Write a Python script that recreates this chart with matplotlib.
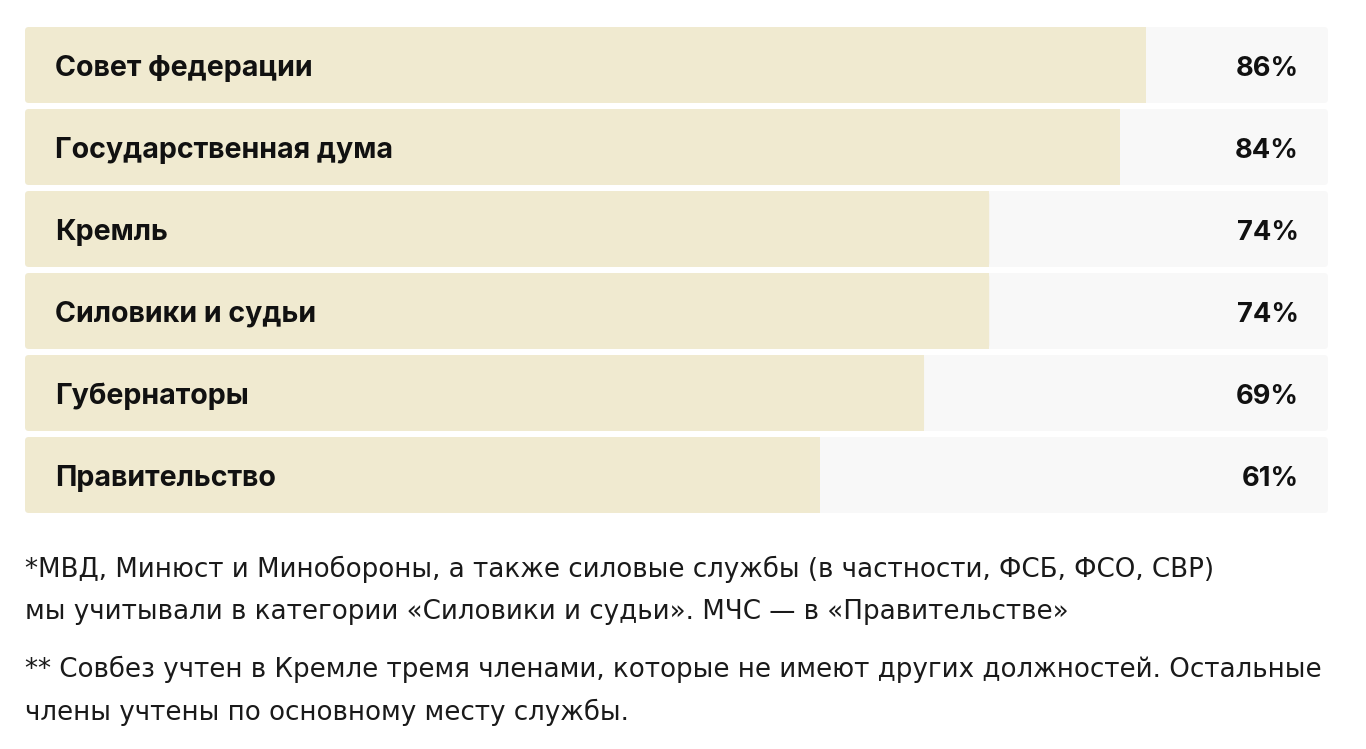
import matplotlib
matplotlib.use('Agg')

import matplotlib.pyplot as plt
from matplotlib.patches import FancyBboxPatch

# data
categories = ['Совет федерации', 'Государственная дума', 'Кремль',
              'Силовики и судьи', 'Губернаторы', 'Правительство']
shares = [86, 84, 74, 74, 69, 61]

notes = ['*МВД, Минюст и Минобороны, а также силовые службы (в частности, ФСБ, ФСО, СВР)',
         'мы учитывали в категории «Силовики и судьи». МЧС — в «Правительстве»',
         '** Совбез учтен в Кремле тремя членами, которые не имеют других должностей. Остальные',
         'члены учтены по основному месту службы.']

plt.rcParams['font.family'] = ['Inter', 'DejaVu Sans']

W, H = 1366, 749
fig = plt.figure(figsize=(W / 100, H / 100), dpi=100)
fig.patch.set_facecolor('white')

# bars area in pixels: x 25..1328, y 27..513
ax = fig.add_axes([25 / W, 1 - 513 / H, 1303 / W, 486 / H])
ax.set_xlim(0, 100)
h = 76 / 82
ax.set_ylim(len(categories) - 1 + h / 2, -h / 2)
ax.axis('off')

aspect = (1303 / 100) / 82  # y units per x unit for same pixel size
r = 0.3
base = 11 / 82  # baseline offset below row centre
for i, (cat, val) in enumerate(zip(categories, shares)):
    track = FancyBboxPatch((0, i - h / 2), 100, h,
                           boxstyle='round,pad=0,rounding_size=%s' % r,
                           mutation_aspect=aspect, facecolor='#f8f8f8',
                           edgecolor='none')
    ax.add_patch(track)
    bar = FancyBboxPatch((0, i - h / 2), val, h,
                         boxstyle='round,pad=0,rounding_size=%s' % r,
                         mutation_aspect=aspect, facecolor='#f0ead0',
                         edgecolor='none')
    ax.add_patch(bar)
    # square off right side of the bar
    ax.barh(i, r, left=val - r, height=h, color='#f0ead0', linewidth=0)
    ax.text(2.3, i + base, cat, fontsize=20.6, fontweight='bold', color='#111111',
            va='baseline', ha='left')
    ax.text(97.75, i + base, '%d%%' % val, fontsize=19.6, fontweight='bold',
            color='#111111', va='baseline', ha='right')

# footnotes
note_y = [577, 619, 677, 720]
for txt, y in zip(notes, note_y):
    fig.text(25 / W, 1 - y / H, txt, fontsize=18.8, color='#1a1a1a',
             family=['DejaVu Sans'], va='baseline', ha='left')

fig.savefig('out.png', dpi=100, facecolor='white')
